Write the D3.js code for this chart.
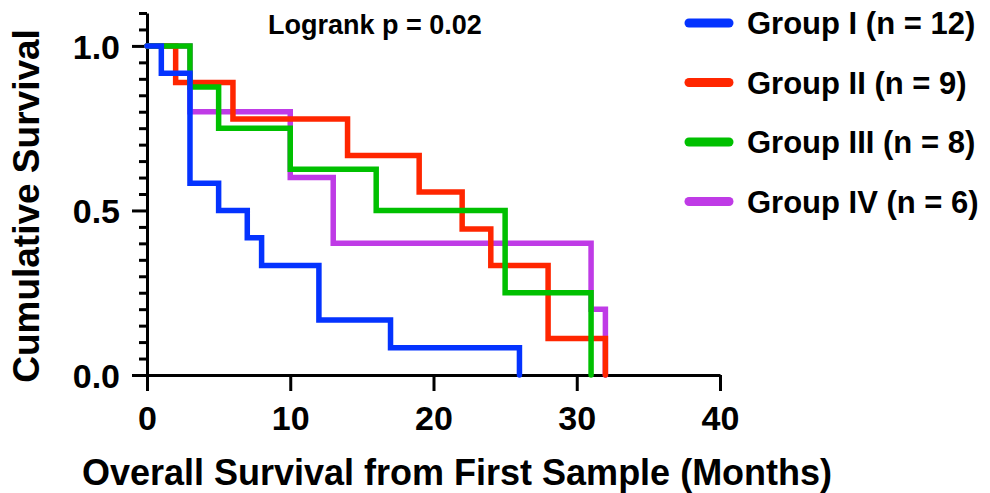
<!DOCTYPE html>
<html>
<head>
<meta charset="utf-8">
<script src="https://cdn.jsdelivr.net/npm/d3@7"></script>
<style>
    body { margin: 0; background: #fff; }
    text { font-family: "Liberation Sans", Arial, sans-serif; font-weight: bold; fill: #000; }
</style>
</head>
<body>
<div id="chart"></div>
<script>
// Kaplan-Meier steps: time of each drop (months) and survival after it
const groupNames = ["Group I (n = 12)", "Group II (n = 9)", "Group III (n = 8)", "Group IV (n = 6)"];
const groupColors = ["#0433ff", "#ff2600", "#00c000", "#bf3be6"];
const timesI = [0, 1, 3, 5, 7, 8, 12, 17, 26];
const survI = [1, 0.917, 0.583, 0.5, 0.417, 0.333, 0.167, 0.083, 0];
const timesII = [0, 2, 6, 14, 19, 22, 24, 28, 32];
const survII = [1, 0.889, 0.778, 0.667, 0.556, 0.444, 0.333, 0.111, 0];
const timesIII = [0, 3, 5, 10, 16, 25, 31];
const survIII = [1, 0.875, 0.75, 0.625, 0.5, 0.25, 0];
const timesIV = [0, 3, 10, 13, 31, 32];
const survIV = [1, 0.8, 0.6, 0.4, 0.2, 0];
const xTicks = [0, 10, 20, 30, 40];
const yTicks = [0, 0.5, 1.0];
const pText = "Logrank p = 0.02";

const width = 990, height = 493;
const margin = {top: 13, right: 270, bottom: 118, left: 147};

const svg = d3.select("#chart")
    .append("svg")
    .attr("width", width)
    .attr("height", height);

const x = d3.scaleLinear().domain([0, 40]).range([margin.left, width - margin.right]);
const y = d3.scaleLinear().domain([0, 1.1]).range([height - margin.bottom, margin.top]);

const series = [
    {t: timesI, s: survI},
    {t: timesII, s: survII},
    {t: timesIII, s: survIII},
    {t: timesIV, s: survIV}
].map((g, i) => ({name: groupNames[i], color: groupColors[i], pts: g.t.map((t, j) => [t, g.s[j]])}));

// minor y ticks every 0.05
const minorY = d3.range(0, 23).map(i => +(i * 0.05).toFixed(2)).filter(v => !yTicks.includes(v));

svg.append("g")
    .attr("transform", `translate(${margin.left},0)`)
    .call(d3.axisLeft(y).tickValues(minorY).tickSize(8).tickFormat(""))
    .call(g => g.select(".domain").remove())
    .call(g => g.selectAll("line").attr("stroke-width", 3));

const yAxis = svg.append("g")
    .attr("transform", `translate(${margin.left},0)`)
    .call(d3.axisLeft(y).tickValues(yTicks).tickSize(15).tickSizeOuter(0).tickPadding(12).tickFormat(d3.format(".1f")));
yAxis.selectAll("text").style("font-size", "34px").attr("dy", "0.36em");

const xAxis = svg.append("g")
    .attr("transform", `translate(0,${y(0)})`)
    .call(d3.axisBottom(x).tickValues(xTicks).tickSize(16).tickSizeOuter(0).tickPadding(15));
xAxis.selectAll("text").style("font-size", "34px");

svg.selectAll(".domain, .tick line").attr("stroke-width", 3).attr("stroke", "#000");

// survival curves, drawn so that group I sits on top
const line = d3.line().x(d => x(d[0])).y(d => y(d[1])).curve(d3.curveStepAfter);
const drawOrder = [3, 1, 2, 0];
svg.append("g")
    .selectAll("path")
    .data(drawOrder.map(i => series[i]))
    .join("path")
    .attr("d", d => line(d.pts))
    .attr("fill", "none")
    .attr("stroke", d => d.color)
    .attr("stroke-width", 5.5)
    .attr("stroke-linecap", "round");

// axis titles
svg.append("text")
    .attr("x", 457)
    .attr("y", 485)
    .attr("text-anchor", "middle")
    .style("font-size", "36px")
    .text("Overall Survival from First Sample (Months)");

svg.append("text")
    .attr("transform", "rotate(-90)")
    .attr("x", -206)
    .attr("y", 39)
    .attr("text-anchor", "middle")
    .style("font-size", "37px")
    .text("Cumulative Survival");

svg.append("text")
    .attr("x", 268)
    .attr("y", 34)
    .style("font-size", "27px")
    .text(pText);

// legend
const legend = svg.append("g")
    .selectAll("g")
    .data(series)
    .join("g")
    .attr("transform", (d, i) => `translate(689,${23 + i * 59.5})`);

legend.append("line")
    .attr("x1", 0).attr("x2", 40)
    .attr("stroke", d => d.color)
    .attr("stroke-width", 9)
    .attr("stroke-linecap", "round");

legend.append("text")
    .attr("x", 58)
    .attr("dy", "0.36em")
    .style("font-size", "31px")
    .text(d => d.name);
</script>
</body>
</html>
